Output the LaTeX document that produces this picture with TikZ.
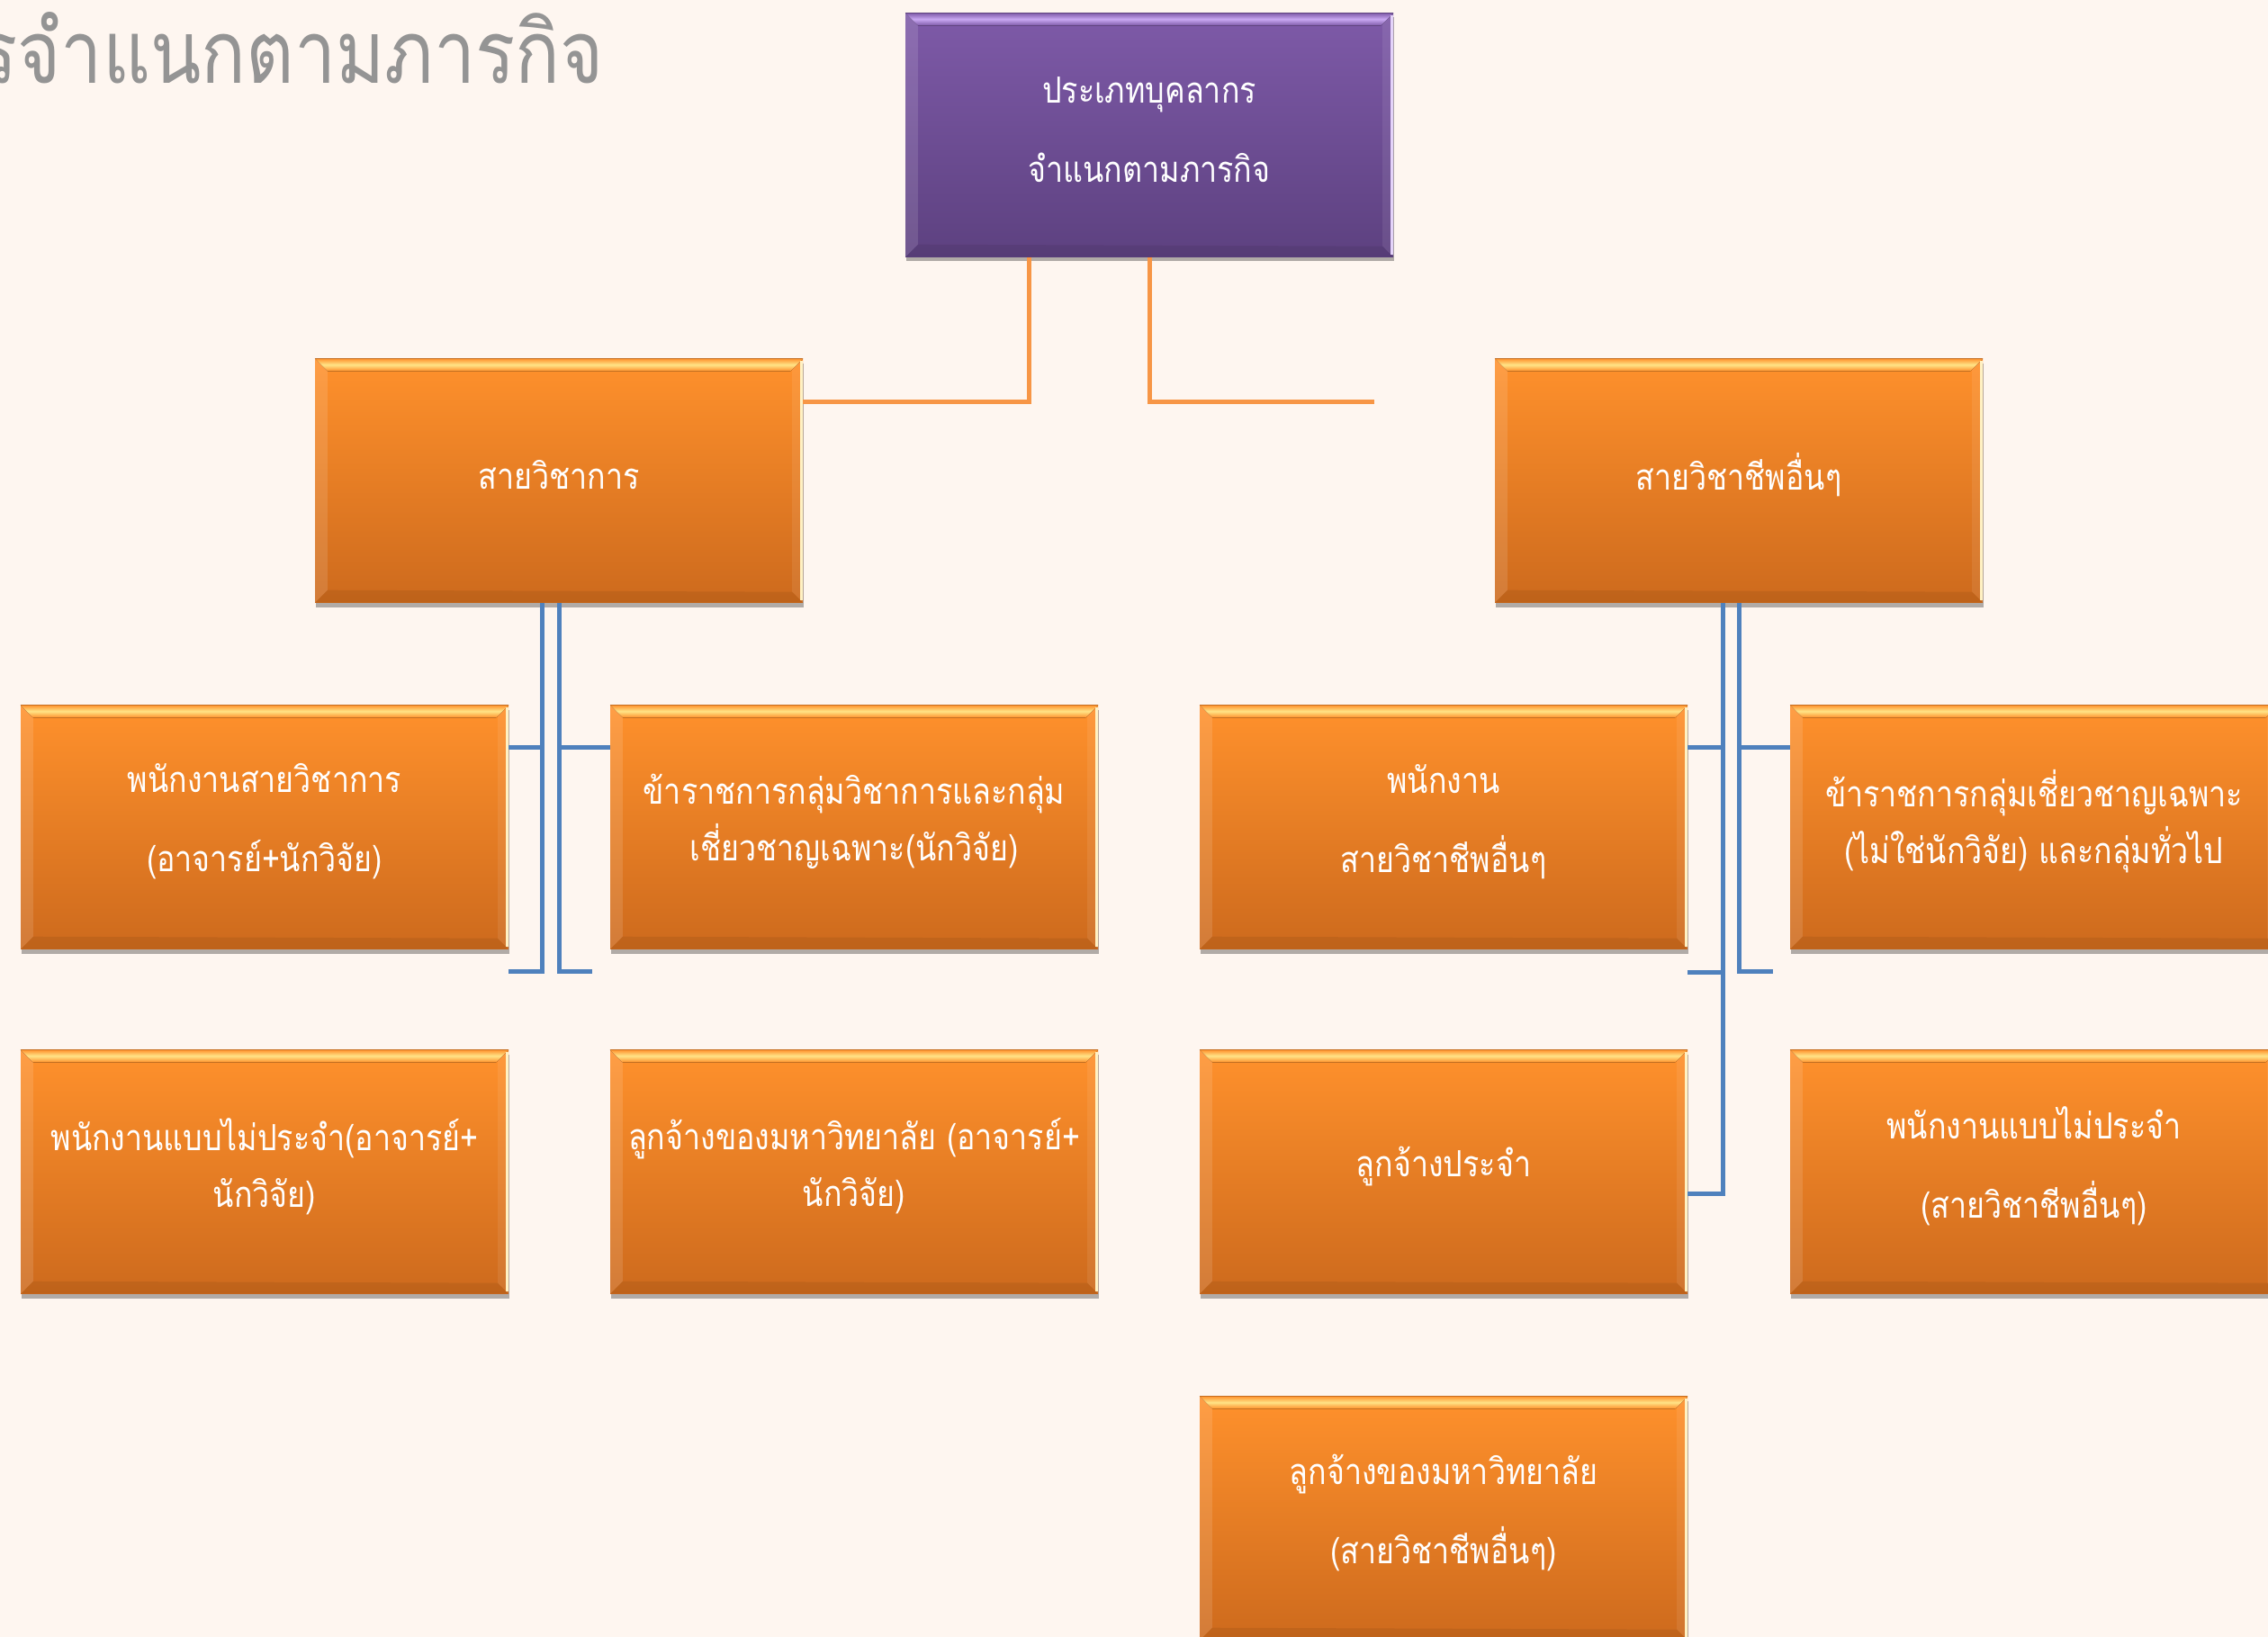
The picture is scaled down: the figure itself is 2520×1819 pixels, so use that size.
\documentclass[tikz,border=0pt]{standalone}
\usepackage{fontspec}
\newfontfamily\thai[Script=Thai,FakeStretch=0.85]{Loma}
\newfontfamily\thaititle[Script=Thai,FakeStretch=0.85]{Loma}
\usetikzlibrary{shadows,calc}
\definecolor{bg}{HTML}{FEF6F0}
\definecolor{otop}{HTML}{FF912C}
\definecolor{obot}{HTML}{CD6A1D}
\definecolor{ohi}{HTML}{FFE487}
\definecolor{ptop}{HTML}{7E5AA8}
\definecolor{pbot}{HTML}{5D4180}
\definecolor{phi}{HTML}{C9A8F2}
\definecolor{blueline}{HTML}{4F81BD}
\definecolor{orangeline}{HTML}{F79646}
\definecolor{titlegray}{HTML}{949494}
\tikzset{
  boxbase/.style={minimum width=542pt,minimum height=271pt,inner sep=0pt,
    drop shadow={shadow xshift=1pt,shadow yshift=-5pt,opacity=0.3,fill=black}},
  obox/.style={boxbase,top color=otop,bottom color=obot},
  pbox/.style={boxbase,top color=ptop,bottom color=pbot},
  boxtext/.style={inner sep=0pt,align=center,text=white,font=\thai\fontsize{40}{63}\selectfont},
  bline/.style={draw=blueline,line width=5pt},
  oline/.style={draw=orangeline,line width=5pt},
}
\newcommand\bevel[3]{%
  \fill[top color=#2,bottom color=#2,middle color=#3] (#1.north west) -- (#1.north east) -- ($(#1.north east)+(-14,14)$) -- ($(#1.north west)+(14,14)$) -- cycle;
  \fill[white,fill opacity=0.12] (#1.north west) -- ($(#1.north west)+(14,14)$) -- ($(#1.south west)+(14,-14)$) -- (#1.south west) -- cycle;
  \fill[white,fill opacity=0.08] (#1.north east) -- ($(#1.north east)+(-12,12)$) -- ($(#1.south east)+(-12,-12)$) -- (#1.south east) -- cycle;
  \fill[black,fill opacity=0.07] (#1.south west) -- ($(#1.south west)+(14,-14)$) -- ($(#1.south east)+(-12,-12)$) -- (#1.south east) -- cycle;
  \draw[#3!50!white,line width=3pt] ($(#1.north east)+(-1.5,3)$) -- ($(#1.south east)+(-1.5,-3)$);
}
\begin{document}
\begin{tikzpicture}[x=1pt,y=-1pt]
\useasboundingbox (0,0) rectangle (2520,1819);
\fill[bg] (0,0) rectangle (2520,1819);

\node[anchor=base west,text=titlegray,font=\thaititle\fontsize{97}{110}\selectfont,inner sep=0pt] (title) at (-25,93) {รจำแนกตามภารกิจ};

% boxes
\node[pbox] (top) at (1277,150) {};
\node[obox] (acad) at (621,534) {};
\node[obox] (prof) at (1932,534) {};
\node[obox] (r1c1) at (294,919) {};
\node[obox] (r1c2) at (949,919) {};
\node[obox] (r1c3) at (1604,919) {};
\node[obox] (r1c4) at (2260,919) {};
\node[obox] (r2c1) at (294,1302) {};
\node[obox] (r2c2) at (949,1302) {};
\node[obox] (r2c3) at (1604,1302) {};
\node[obox] (r2c4) at (2260,1302) {};
\node[obox] (r3c3) at (1604,1687) {};

\bevel{top}{ptop}{phi}
\foreach \n in {acad,prof,r1c1,r1c2,r1c3,r1c4,r2c1,r2c2,r2c3,r2c4,r3c3}{\bevel{\n}{otop}{ohi}}

% texts
\node[boxtext] (top-t) at ([yshift=6pt]top.center) {ประเภทบุคลากร\\[25pt]จำแนกตามภารกิจ};
\node[boxtext] (acad-t) at ([yshift=6pt]acad.center) {สายวิชาการ};
\node[boxtext] (prof-t) at ([yshift=6pt]prof.center) {สายวิชาชีพอื่นๆ};
\node[boxtext] (r1c1-t) at ([yshift=6pt]r1c1.center) {พนักงานสายวิชาการ\\[25pt](อาจารย์+นักวิจัย)};
\node[boxtext] (r1c2-t) at ([yshift=6pt]r1c2.center) {ข้าราชการกลุ่มวิชาการและกลุ่ม\\เชี่ยวชาญเฉพาะ(นักวิจัย)};
\node[boxtext] (r1c3-t) at ([yshift=6pt]r1c3.center) {พนักงาน\\[25pt]สายวิชาชีพอื่นๆ};
\node[boxtext] (r1c4-t) at ([yshift=6pt]r1c4.center) {ข้าราชการกลุ่มเชี่ยวชาญเฉพาะ\\(ไม่ใช่นักวิจัย) และกลุ่มทั่วไป};
\node[boxtext] (r2c1-t) at ([yshift=6pt]r2c1.center) {พนักงานแบบไม่ประจำ(อาจารย์+\\นักวิจัย)};
\node[boxtext] (r2c2-t) at ([yshift=6pt]r2c2.center) {ลูกจ้างของมหาวิทยาลัย (อาจารย์+\\นักวิจัย)};
\node[boxtext] (r2c3-t) at ([yshift=6pt]r2c3.center) {ลูกจ้างประจำ};
\node[boxtext] (r2c4-t) at ([yshift=6pt]r2c4.center) {พนักงานแบบไม่ประจำ\\[25pt](สายวิชาชีพอื่นๆ)};
\node[boxtext] (r3c3-t) at ([yshift=6pt]r3c3.center) {ลูกจ้างของมหาวิทยาลัย\\[25pt](สายวิชาชีพอื่นๆ)};

% orange connectors
\coordinate (oend) at (1527,446);
\draw[oline] ([xshift=-134pt]top.south) |- ([yshift=-48pt]acad.north east);
\draw[oline] (top.south) |- (oend);

% blue connectors, left group
\draw[bline] ([xshift=-19pt]acad.south) -- ++(0,410) -- ++(-37,0);
\draw[bline] ([yshift=-47pt]r1c1.north east) -- ++(37,0);
\draw[bline] (acad.south) -- ++(0,410) -- ++(37,0);
\draw[bline] ([yshift=-47pt]r1c2.north west) -- ++(-56,0);

% blue connectors, right group
\draw[bline] ([xshift=-18pt]prof.south) -- ++(0,657) -- ++(-39,0);
\draw[bline] ([yshift=-47pt]r1c3.north east) -- ++(39,0);
\draw[bline] ([yshift=-26pt]r1c3.south east) -- ++(39,0);
\draw[bline] (prof.south) -- ++(0,410) -- ++(38,0);
\draw[bline] ([yshift=-47pt]r1c4.north west) -- ++(-57,0);
\end{tikzpicture}
\end{document}
